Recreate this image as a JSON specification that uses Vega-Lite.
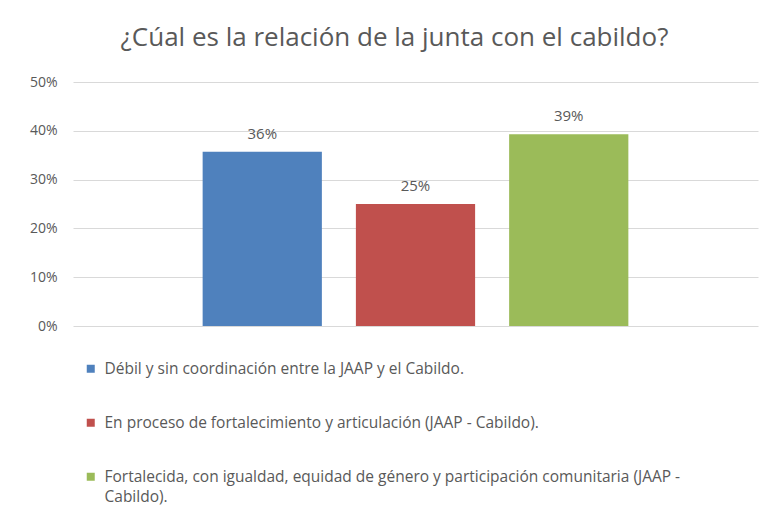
{
  "$schema": "https://vega.github.io/schema/vega-lite/v6.json",
  "width": 685,
  "height": 244,
  "autosize": {"type": "none"},
  "padding": {"left": 73, "top": 82, "right": 13, "bottom": 180},
  "background": "white",
  "config": {"view": {"stroke": null}},
  "title": {
    "text": "¿Cúal es la relación de la junta con el cabildo?",
    "font": "Open Sans",
    "fontSize": 26,
    "fontWeight": "normal",
    "color": "#595959",
    "anchor": "middle",
    "dx": -21,
    "offset": 24
  },
  "data": {
    "values": [
      {"categoria": "Débil y sin coordinación entre la JAAP y el Cabildo.", "valor": 0.357},
      {"categoria": "En proceso de fortalecimiento y articulación (JAAP - Cabildo).", "valor": 0.25},
      {"categoria": "Fortalecida, con igualdad, equidad de género y participación comunitaria (JAAP - Cabildo).", "valor": 0.393}
    ]
  },
  "encoding": {
    "x": {
      "field": "categoria",
      "type": "nominal",
      "sort": null,
      "axis": null,
      "scale": {"paddingInner": 0.222, "paddingOuter": 0.846}
    },
    "y": {
      "field": "valor",
      "type": "quantitative",
      "scale": {"domain": [0, 0.5]},
      "axis": {
        "title": null,
        "values": [0, 0.1, 0.2, 0.3, 0.4, 0.5],
        "format": ".0%",
        "domain": false,
        "ticks": false,
        "gridColor": "#D9D9D9",
        "gridWidth": 1,
        "labelFont": "Open Sans",
        "labelFontSize": 14,
        "labelColor": "#595959",
        "labelPadding": 16
      }
    }
  },
  "layer": [
    {
      "mark": {"type": "bar"},
      "encoding": {
        "color": {
          "field": "categoria",
          "type": "nominal",
          "sort": null,
          "scale": {"range": ["#4F81BD", "#C0504D", "#9BBB59"]},
          "legend": {
            "title": null,
            "orient": "none",
            "direction": "vertical",
            "legendX": 10,
            "legendY": 279,
            "symbolType": "square",
            "symbolSize": 64,
            "symbolStrokeWidth": 0,
            "labelFont": "Open Sans",
            "labelFontSize": 15.5,
            "labelColor": "#595959",
            "labelLimit": 740,
            "labelOffset": 6,
            "rowPadding": 37,
            "labelExpr": "indexof(datum.label, 'Fortalecida') == 0 ? ['Fortalecida, con igualdad, equidad de género y participación comunitaria (JAAP -', 'Cabildo).'] : datum.label",
            "encode": {"labels": {"update": {"lineHeight": {"value": 20}}}}
          }
        }
      }
    },
    {
      "mark": {"type": "text", "baseline": "bottom", "dy": -10, "font": "Open Sans", "fontSize": 15, "color": "#595959"},
      "encoding": {
        "text": {"field": "valor", "type": "quantitative", "format": ".0%"}
      }
    }
  ]
}
